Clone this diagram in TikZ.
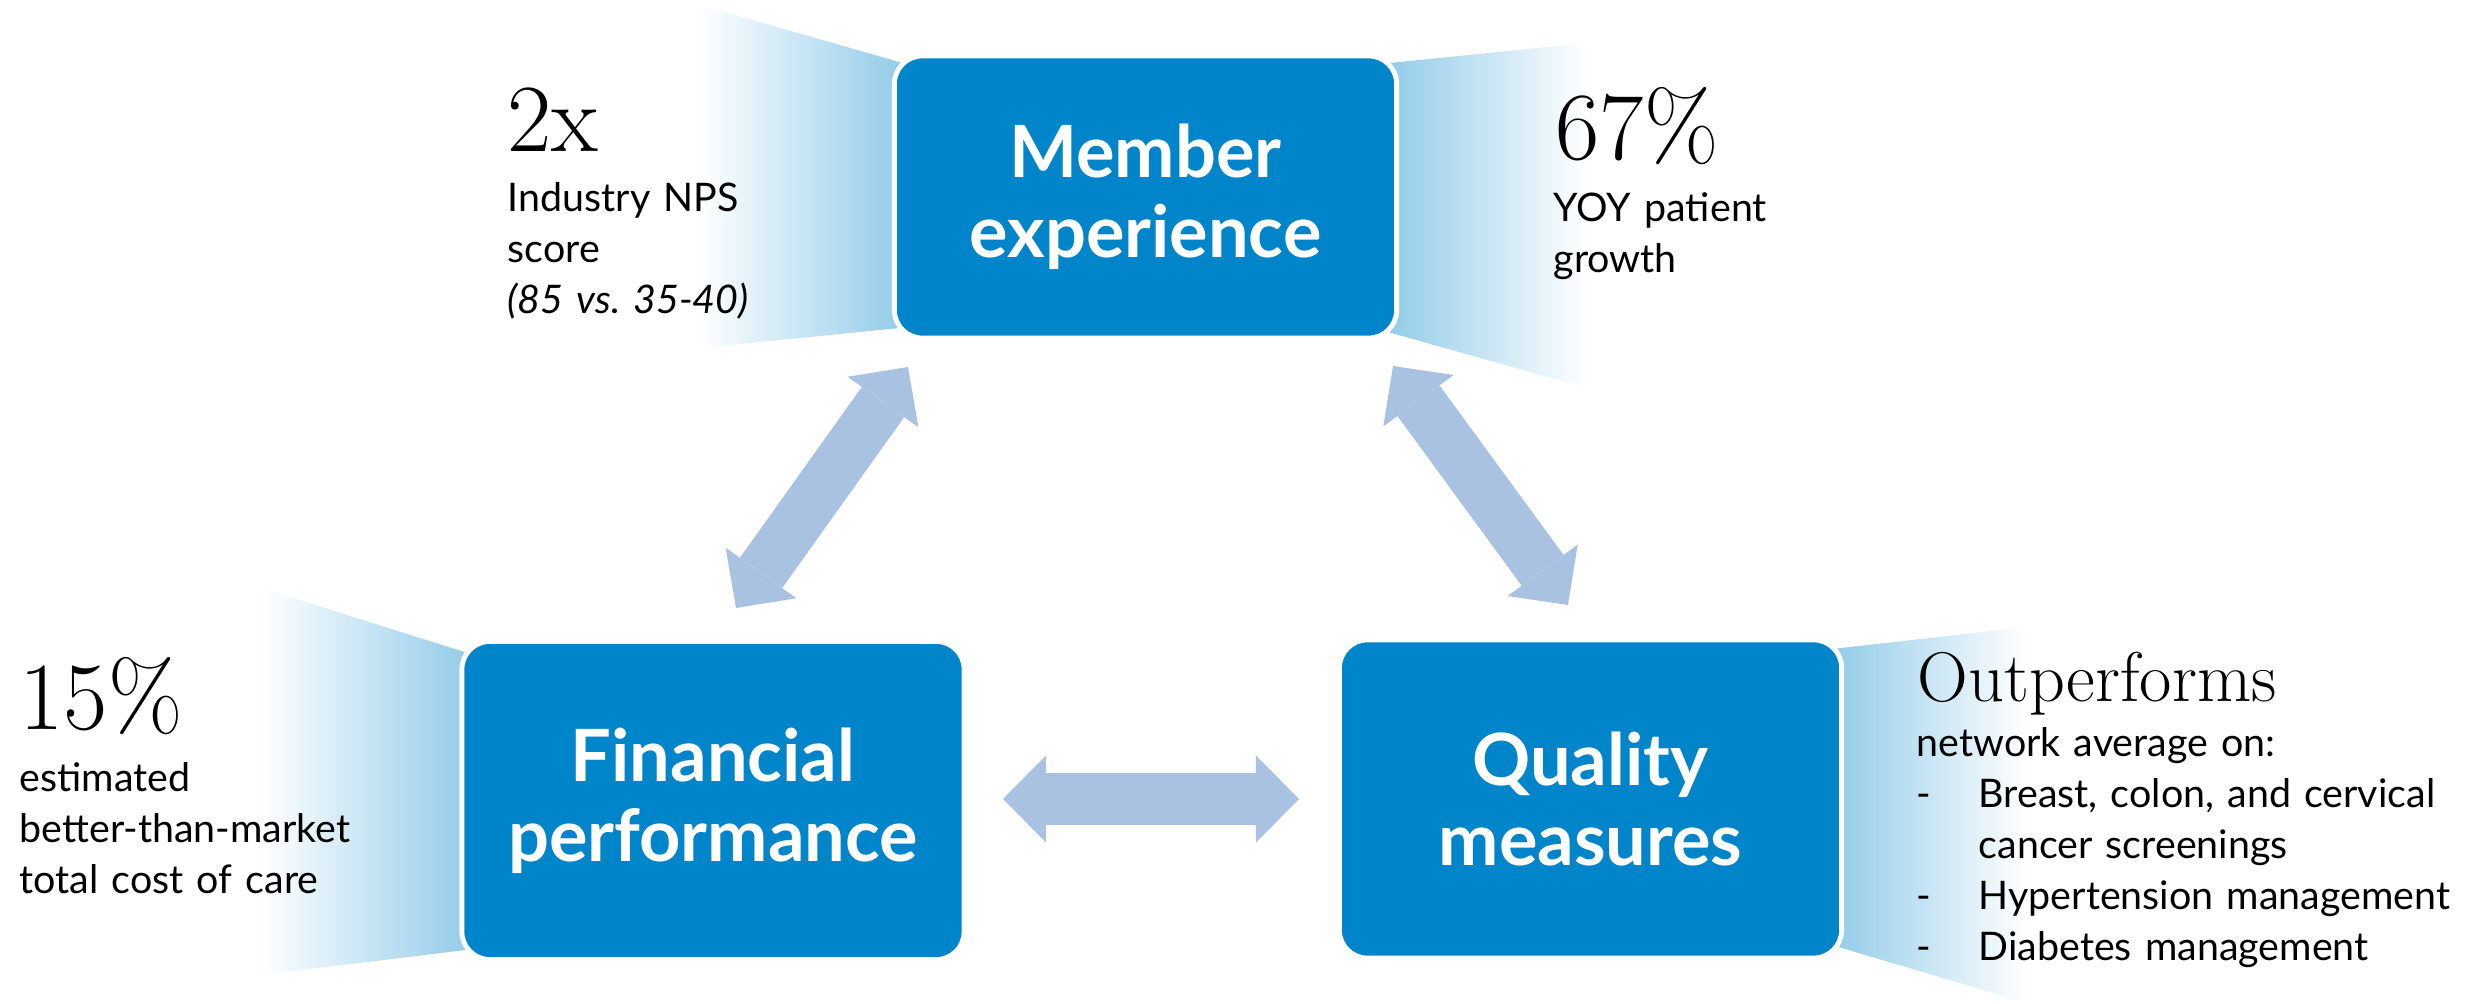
\documentclass[tikz,border=0pt]{standalone}
\usepackage{fontspec}
\setsansfont{Lato}
\usetikzlibrary{arrows.meta}

\definecolor{boxblue}{RGB}{0,133,202}
\definecolor{fanblue}{RGB}{137,199,231}
\definecolor{linkblue}{RGB}{170,194,225}

\tikzset{
  topic/.style={rounded corners=0.28cm, fill=boxblue, draw=white, line width=1.4pt,
    text=white, align=center, minimum width=5.02cm,
    font=\sffamily\bfseries\fontsize{20.5}{22.8}\selectfont},
  bignum/.style={anchor=base west, inner sep=0pt, font=\fontsize{27.4}{30}\selectfont},
  note/.style={anchor=base west, inner sep=0pt, text width=5cm, align=left,
    font=\sffamily\fontsize{11.2}{14.5}\selectfont},
  link/.style={linkblue, line width=0.52cm,
    {Triangle[length=0.43cm,width=0.87cm,line width=0pt]}-{Triangle[length=0.43cm,width=0.87cm,line width=0pt]}},
}

\begin{document}
\begin{tikzpicture}[x=0.01cm,y=-0.01cm]
\useasboundingbox (0,0) rectangle (2482,1004);

% fans behind the boxes
\shade[left color=white, right color=fanblue] (700,5) -- (920,68) -- (920,326) -- (700,348) -- cycle;
\shade[left color=fanblue, right color=white] (1370,65) -- (1587,43) -- (1587,388) -- (1370,327) -- cycle;
\shade[left color=white, right color=fanblue] (261,588) -- (490,660) -- (490,947) -- (261,975) -- cycle;
\shade[left color=fanblue, right color=white] (1815,651) -- (2027,627) -- (2027,1003) -- (1815,940) -- cycle;

% boxes
\node[topic, minimum height=2.82cm] (mem) at (1145.5,197) {Member\\experience};
\node[topic, minimum height=3.18cm] (fin) at (713,800.5) {Financial\\performance};
\node[topic, minimum height=3.18cm] (qual) at (1590.5,799) {Quality\\measures};

% arrows
\coordinate (fm1) at (736,608);
\coordinate (fm2) at (908,367);
\coordinate (mq1) at (1393,366);
\coordinate (mq2) at (1568,605);
\coordinate (fq1) at (1003,799);
\coordinate (fq2) at (1299,799);
\draw[link] (fm1) -- (fm2);
\draw[link] (mq1) -- (mq2);
\draw[link] (fq1) -- (fq2);

% figures
\node[bignum] (twox) at (507,152) {2x};
\node[note] (nps) at (507,212) {Industry NPS\\score\\\textit{(85 vs.\ 35-40)}};

\node[bignum] (growth) at (1555,160) {67\%};
\node[note] (yoy) at (1553,222) {YOY patient\\growth};

\node[bignum] (fifteen) at (19,730) {15\%};
\node[note] (cost) at (19,792) {estimated\\better-than-market\\total cost of care};

\node[anchor=base west, inner sep=0pt, font=\fontsize{20}{22}\selectfont] (outp) at (1917,702) {Outperforms};
\node[note, text width=6.5cm] (avg) at (1916,757) {network average on:\\
  \makebox[0.62cm][l]{-}Breast, colon, and cervical\\
  \hspace*{0.62cm}cancer screenings\\
  \makebox[0.62cm][l]{-}Hypertension management\\
  \makebox[0.62cm][l]{-}Diabetes management};

\end{tikzpicture}
\end{document}
